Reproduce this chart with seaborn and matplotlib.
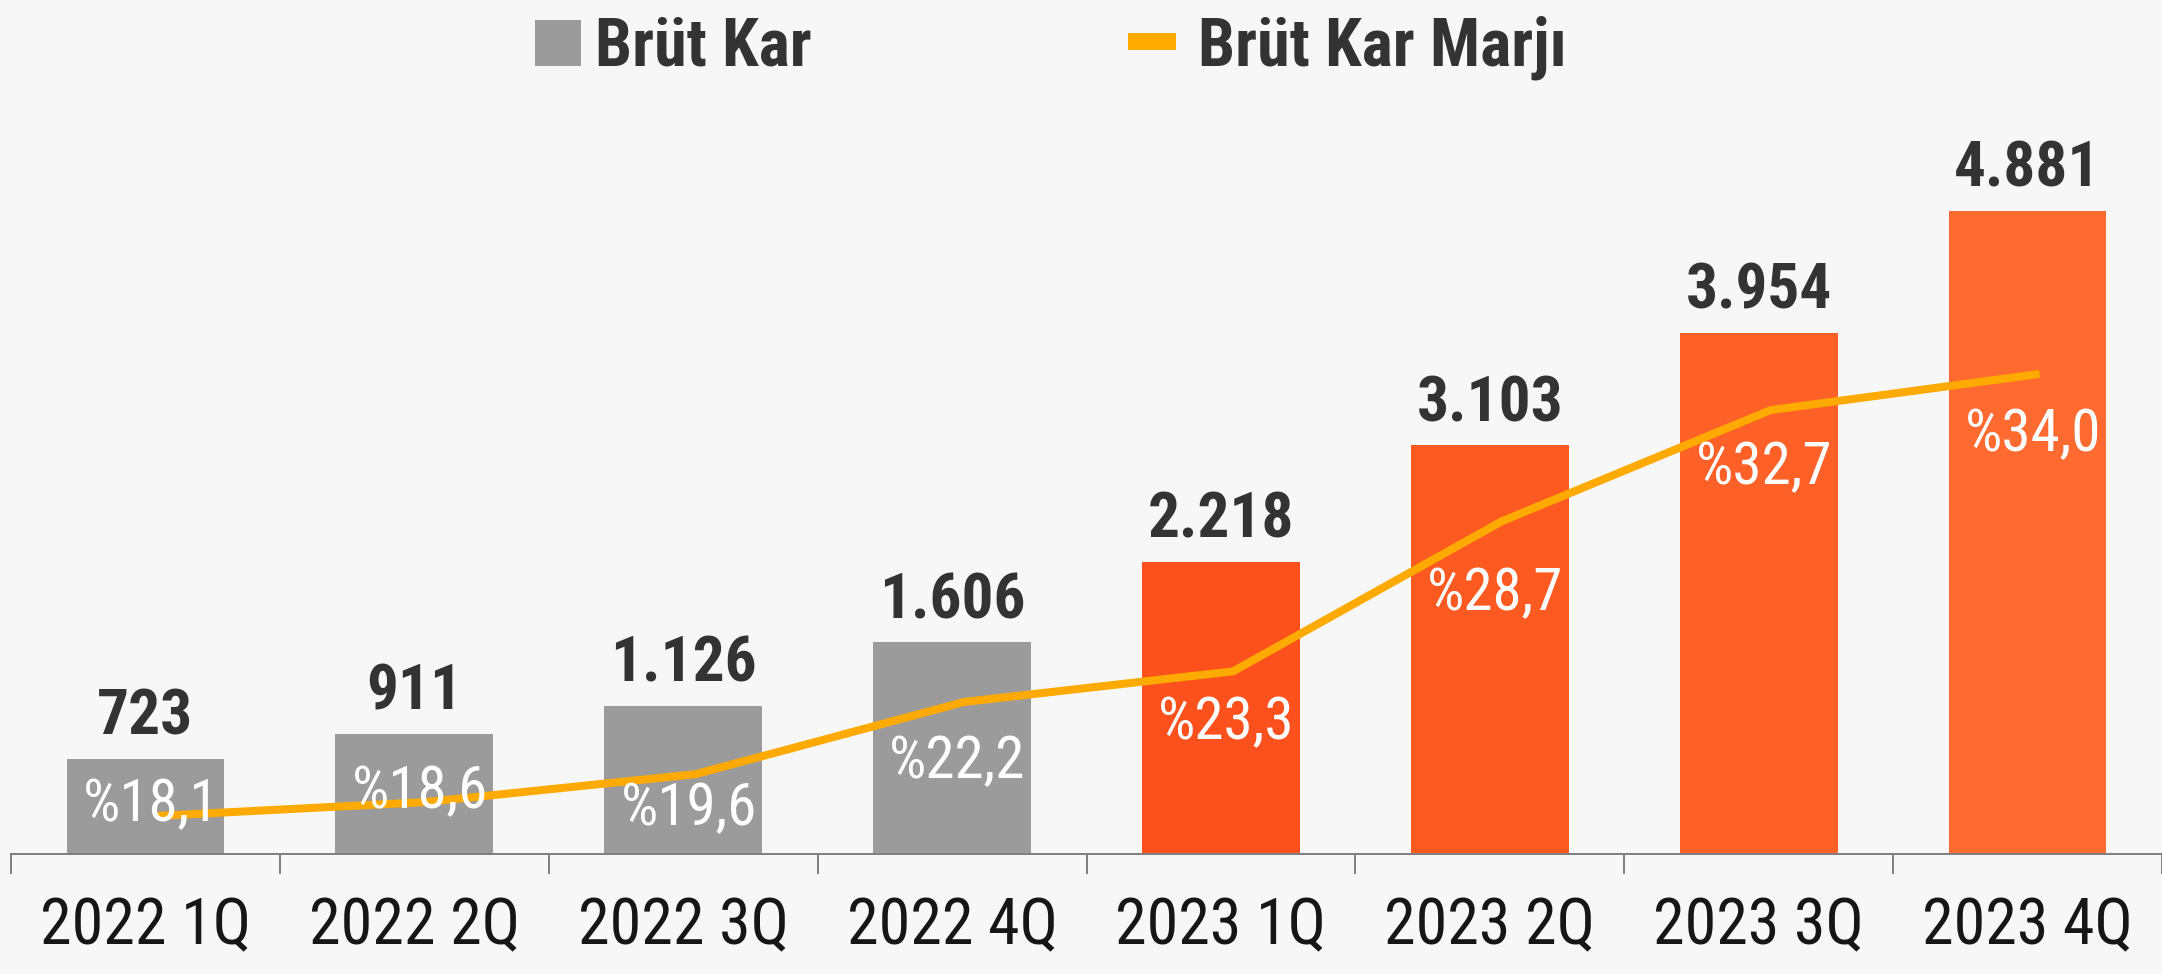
import matplotlib
matplotlib.use("Agg")
import matplotlib.pyplot as plt
import numpy as np
import pandas as pd
import seaborn as sns
from matplotlib.patches import Rectangle

# Quarterly gross profit (million TL) and gross margin (%)
quarters = ["2022 1Q", "2022 2Q", "2022 3Q", "2022 4Q",
            "2023 1Q", "2023 2Q", "2023 3Q", "2023 4Q"]
gross_profit = [723, 911, 1126, 1606, 2218, 3103, 3954, 4881]
gross_margin = [18.1, 18.6, 19.6, 22.2, 23.3, 28.7, 32.7, 34.0]
profit_labels = ["723", "911", "1.126", "1.606", "2.218", "3.103", "3.954", "4.881"]
margin_labels = ["%18,1", "%18,6", "%19,6", "%22,2", "%23,3", "%28,7", "%32,7", "%34,0"]
legend_labels = ["Brüt Kar", "Brüt Kar Marjı"]

bar_colors = ["#9b9b9b"] * 4 + ["#fc511d", "#fd5a21", "#fe6127", "#ff6a30"]
line_color = "#ffaa00"
# how far (px) each margin label's baseline sits below its line point
margin_label_drop = [5, 6, 51, 76, 68, 89, 74, 77]

sns.set_theme(style="white")
plt.rcParams["font.family"] = ["Roboto Condensed", "DejaVu Sans"]

W, H = 2162, 974
PX = 72 / 100  # points per pixel at dpi 100
fig = plt.figure(figsize=(W / 100, H / 100), dpi=100, facecolor="#f7f7f7")
ax = fig.add_axes([11 / W, (H - 854) / H, (W - 11) / W, 854 / H])
ax.set_facecolor("none")

df = pd.DataFrame({"quarter": quarters, "profit": gross_profit})
sns.barplot(data=df, x="quarter", y="profit", hue="quarter", palette=bar_colors,
            saturation=1, width=0.587, linewidth=0, legend=False, ax=ax)
ax.set_xlim(-0.5, 7.5)
ax.set_ylim(0, 6480)
ax.set_xlabel("")
ax.set_ylabel("")
ax.set_yticks([])
for s in ["top", "right", "left"]:
    ax.spines[s].set_visible(False)
ax.spines["bottom"].set_color("#808080")
ax.spines["bottom"].set_linewidth(2 * PX)

ax.set_xticks(range(len(quarters)))
ax.set_xticklabels(quarters)
ax.set_xticks(np.arange(-0.5, len(quarters), 1.0), minor=True)
ax.tick_params(axis="x", which="major", length=0, pad=30, labelsize=46, labelcolor="#161616")
ax.tick_params(axis="x", which="minor", length=20 * PX, width=2 * PX, color="#808080",
               direction="out", bottom=True)

for i, (v, lbl) in enumerate(zip(gross_profit, profit_labels)):
    ax.annotate(lbl, (i, v), xytext=(0, 24 * PX), textcoords="offset points",
                ha="center", va="baseline", fontsize=45.5, fontweight="bold",
                color="#333333")

ax2 = ax.twinx()
ax2.set_ylim(16.73, 47.45)
line_x = np.arange(len(quarters)) + 0.045
sns.lineplot(x=line_x, y=gross_margin, ax=ax2, color=line_color, linewidth=8 * PX,
             solid_capstyle="butt", sort=False)
ax2.set_xlim(-0.5, 7.5)
ax2.axis("off")

for i, (m, lbl, d) in enumerate(zip(gross_margin, margin_labels, margin_label_drop)):
    ax2.annotate(lbl, (i + 0.02, m), xytext=(0, -d * PX), textcoords="offset points",
                 ha="center", va="baseline", fontsize=42.5, color="white")

# legend
fig.add_artist(Rectangle((535 / W, (H - 66) / H), 46 / W, 46 / H,
                         transform=fig.transFigure, color="#9b9b9b", lw=0))
fig.add_artist(Rectangle((1128 / W, (H - 50) / H), 48 / W, 17 / H,
                         transform=fig.transFigure, color=line_color, lw=0))
fig.text(595 / W, (H - 66) / H, legend_labels[0], ha="left", va="baseline",
         fontsize=47.5, fontweight="bold", color="#333333")
fig.text(1198 / W, (H - 66) / H, legend_labels[1], ha="left", va="baseline",
         fontsize=47.5, fontweight="bold", color="#333333")

fig.savefig("out.png", dpi=100, facecolor=fig.get_facecolor())
